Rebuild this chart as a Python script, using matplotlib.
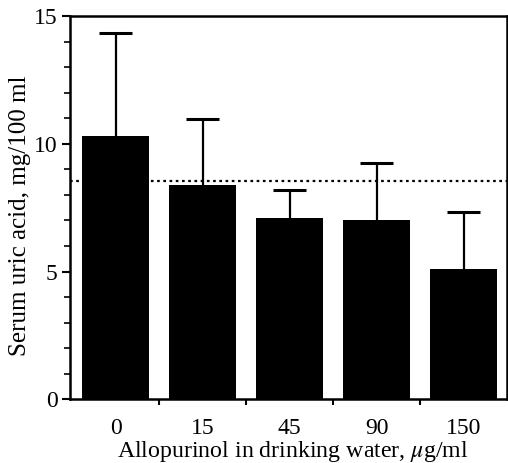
import matplotlib
matplotlib.use("Agg")
import matplotlib.pyplot as plt
from matplotlib.ticker import MultipleLocator, FixedLocator
import numpy as np

categories = ["0", "15", "45", "90", "150"]
means = [10.3, 8.4, 7.1, 7.0, 5.1]
upper_err = [4.05, 2.58, 1.1, 2.25, 2.22]
reference_level = 8.56

plt.rcParams['font.family'] = ['Liberation Serif', 'DejaVu Serif']
plt.rcParams['mathtext.fontset'] = 'stix'

fig = plt.figure(figsize=(5.08, 4.63), dpi=100)
ax = fig.add_axes([70/508, (463-399)/463, (507-70)/508, (399-16.5)/463])

x = np.arange(len(categories))
ax.bar(x, means, width=0.77, color='black', zorder=2)
tops = np.array(means) + np.array(upper_err)
ax.vlines(x, means, tops, color='black', linewidth=1.6, zorder=1)
ax.hlines(tops, x - 0.185, x + 0.185, color='black', linewidth=2.2, zorder=1)
ax.axhline(reference_level, color='black', linestyle=(0, (1.2, 1.6)), linewidth=1.6, zorder=3)

ax.set_xlim(-0.523, 4.5)
ax.set_ylim(0, 15)
ax.yaxis.set_major_locator(FixedLocator([0, 5, 10, 15]))
ax.yaxis.set_minor_locator(MultipleLocator(1))
ax.set_xticks(x)
ax.set_xticklabels(categories)
ax.xaxis.set_minor_locator(FixedLocator([0.5, 1.5, 2.5, 3.5]))
ax.tick_params(axis='x', which='major', length=0, pad=14, labelsize=17)
ax.tick_params(axis='x', which='minor', length=4, width=1.5, direction='out')
ax.tick_params(axis='y', which='major', length=6, width=1.5, direction='out', labelsize=17, pad=3)
ax.tick_params(axis='y', which='minor', length=4, width=1.2, direction='out')
for s in ax.spines.values():
    s.set_linewidth(1.8)

ax.set_ylabel("Serum uric acid, mg/100 ml", fontsize=18)
ax.yaxis.set_label_coords(-0.09, 0.48)
ax.set_xlabel("Allopurinol in drinking water, $\\mu$g/ml", fontsize=17.2)
ax.xaxis.set_label_coords(0.51, -0.104)

fig.savefig("out.png", dpi=100)
